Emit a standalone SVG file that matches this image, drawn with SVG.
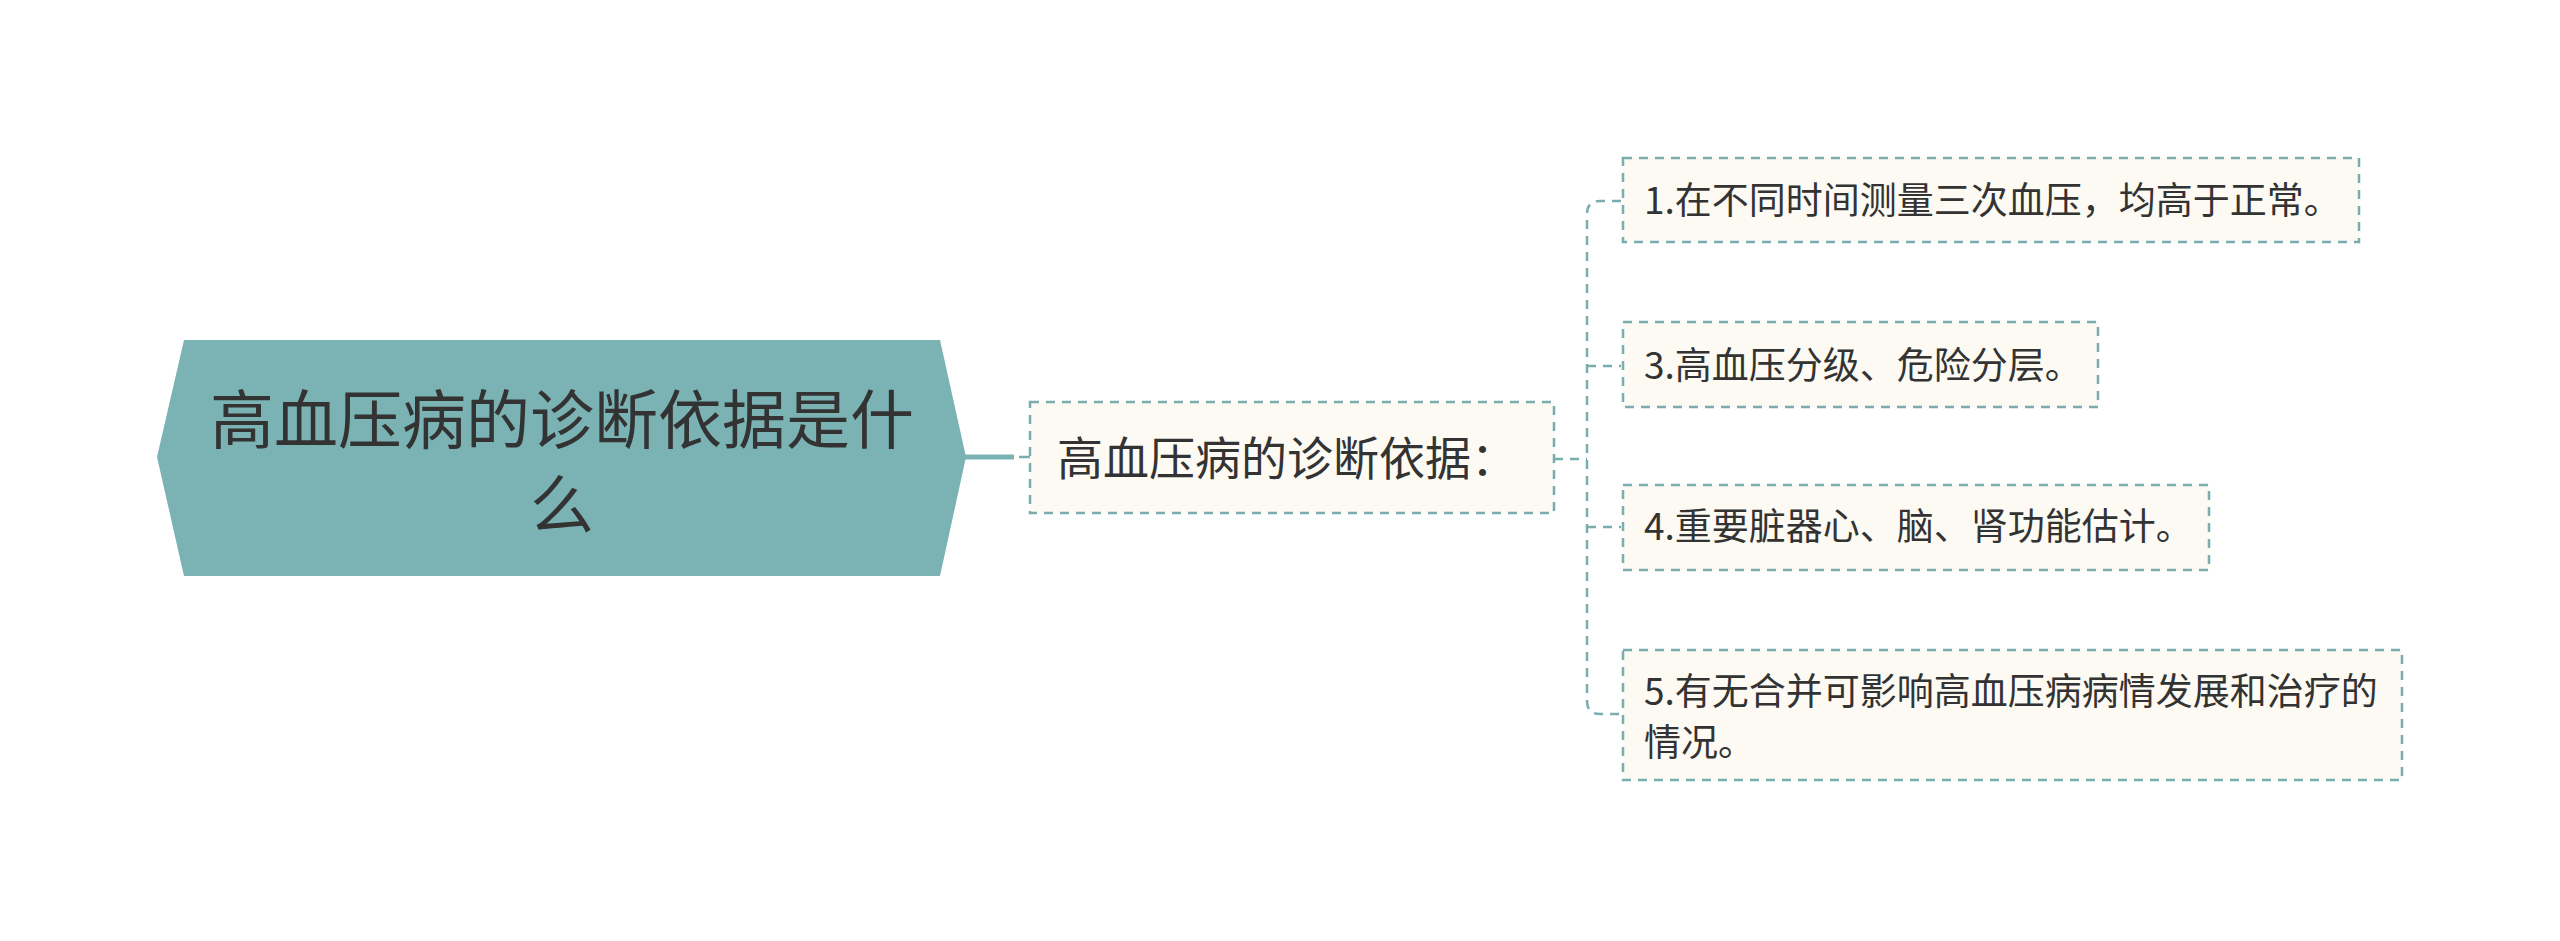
<svg xmlns="http://www.w3.org/2000/svg" width="2560" height="941" viewBox="0 0 2560 941">
<style>
text{font-family:"Noto Sans CJK SC","Noto Sans",sans-serif;fill:#333333}
.root{font-size:64px}
.child{font-size:46px}
.leaf{font-size:37px}
.box{fill:#fcfaf3;stroke:#7aadad;stroke-width:2.5;stroke-dasharray:9 7}
.dash{fill:none;stroke:#7aadad;stroke-width:2.5;stroke-dasharray:9 7}
</style>
<rect width="2560" height="941" fill="#ffffff"/>
<g id="connectors">
<line x1="964" y1="457" x2="1014" y2="457" stroke="#7bb3b5" stroke-width="5"/>
<line x1="1019" y1="457" x2="1030" y2="457" stroke="#7aadad" stroke-width="2.5"/>
<path class="dash" d="M1554 459 H1587"/>
<path class="dash" d="M1621 201 H1600 Q1587 201 1587 214 V701 Q1587 714 1600 714 H1621"/>
<path class="dash" d="M1587 366 H1621"/>
<path class="dash" d="M1587 527 H1621"/>
</g>
<g id="root">
<polygon points="184,340 940,340 966,457 940,576 184,576 157,457" fill="#7bb3b5"/>
<text class="root" x="562" y="443" text-anchor="middle">高血压病的诊断依据是什</text>
<text class="root" x="562" y="528" text-anchor="middle">么</text>
</g>
<g id="child">
<rect class="box" x="1030" y="402" width="524" height="111"/>
<text class="child" x="1057" y="475">高血压病的诊断依据：</text>
</g>
<g id="leaf1">
<rect class="box" x="1623" y="158" width="736" height="84"/>
<text class="leaf" x="1644" y="214">1.在不同时间测量三次血压，均高于正常。</text>
</g>
<g id="leaf3">
<rect class="box" x="1623" y="322" width="475" height="85"/>
<text class="leaf" x="1644" y="379">3.高血压分级、危险分层。</text>
</g>
<g id="leaf4">
<rect class="box" x="1623" y="485" width="586" height="85"/>
<text class="leaf" x="1644" y="540">4.重要脏器心、脑、肾功能估计。</text>
</g>
<g id="leaf5">
<rect class="box" x="1623" y="650" width="779" height="130"/>
<text class="leaf" x="1644" y="705">5.有无合并可影响高血压病病情发展和治疗的</text>
<text class="leaf" x="1644" y="756">情况。</text>
</g>
</svg>
